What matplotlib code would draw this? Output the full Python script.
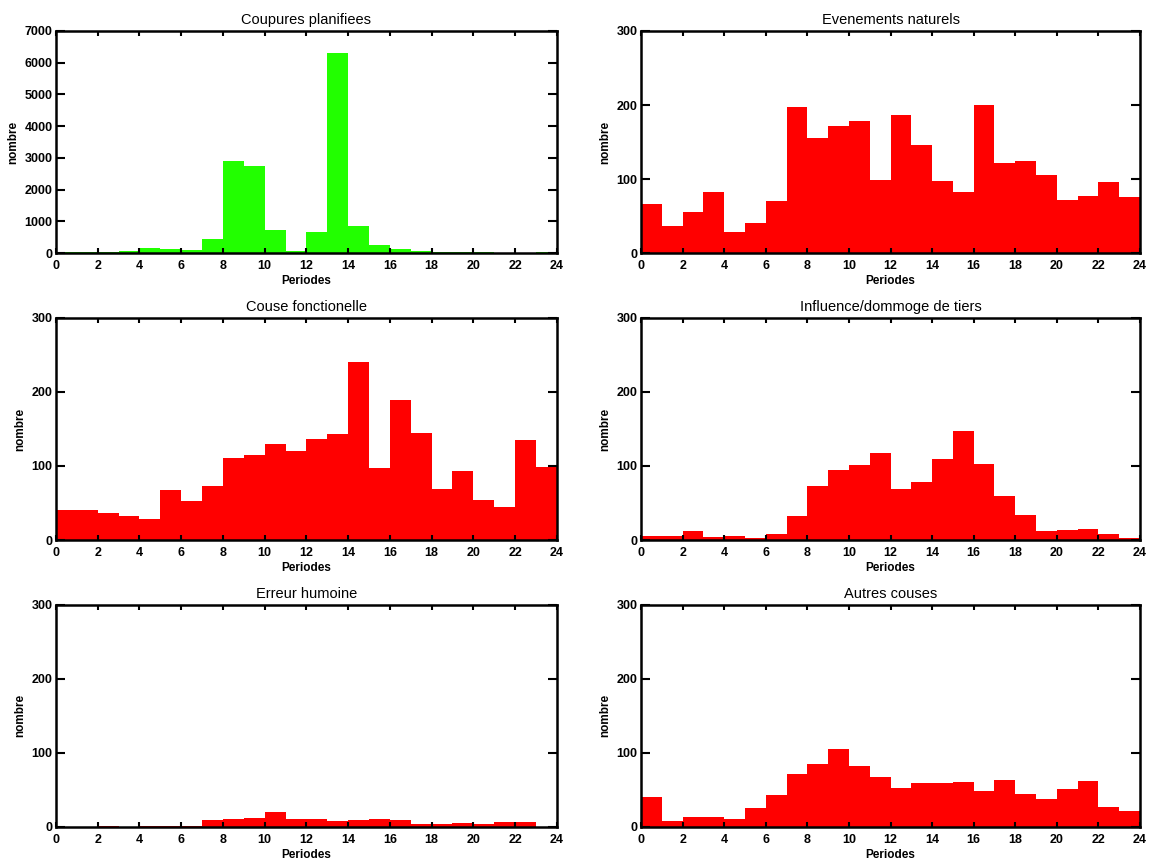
import numpy as np
import matplotlib
matplotlib.use("Agg")
import matplotlib.pyplot as plt

# heures 0..23 (chaque barre couvre une heure)
heures = np.arange(24)

titres = ["Coupures planifiees", "Evenements naturels",
          "Couse fonctionelle", "Influence/dommoge de tiers",
          "Erreur humoine", "Autres couses"]

coupures = [50, 20, 40, 80, 150, 135, 110, 450, 2900, 2740, 715, 70,
            680, 6320, 850, 250, 135, 80, 30, 30, 25, 10, 10, 50]
naturels = [66, 36, 56, 83, 29, 41, 71, 198, 156, 172, 179, 99,
            187, 146, 98, 83, 200, 122, 125, 106, 72, 77, 96, 76]
fonctionelle = [40, 41, 37, 32, 29, 67, 53, 73, 111, 115, 129, 120,
                136, 143, 241, 97, 189, 144, 69, 93, 54, 45, 135, 99]
tiers = [5, 6, 12, 4, 5, 3, 8, 32, 73, 95, 101, 118,
         69, 78, 110, 147, 103, 60, 34, 12, 14, 15, 8, 3]
humaine = [0.5, 0, 1, 0, 1, 1, 2, 9, 10.5, 11.5, 20, 11,
           11, 8.5, 10, 11, 10, 3.5, 3.5, 5, 3.5, 6.5, 6.5, 0.5]
autres = [41, 7.5, 13.5, 13.5, 10.5, 26, 43.5, 71, 85.5, 105, 83, 67,
          52, 59, 60, 61, 48, 63, 44.5, 38, 51, 62, 27.5, 22]

series = [coupures, naturels, fonctionelle, tiers, humaine, autres]
couleurs = ["#22ff00", "red", "red", "red", "red", "red"]
ymax = [7000, 300, 300, 300, 300, 300]
ypas = [1000, 100, 100, 100, 100, 100]

fig = plt.figure(figsize=(11.54, 8.61), dpi=100)

lefts = [0.0485, 0.5555]
bottoms = [0.706, 0.3728, 0.0395]
w = [0.434, 0.4324]
h = 0.258

for i in range(6):
    ligne, col = divmod(i, 2)
    ax = fig.add_axes([lefts[col], bottoms[ligne], w[col], h])
    ax.bar(heures, series[i], width=1, align='edge', color=couleurs[i], linewidth=0)
    ax.set_xlim(0, 24)
    ax.set_ylim(0, ymax[i])
    ax.set_xticks(range(0, 25, 2))
    ax.set_yticks(range(0, ymax[i] + 1, ypas[i]))
    # ticks style IDL : courts en x, longs en y
    ax.tick_params(axis='x', direction='in', top=True, length=3.5, width=1.5,
                   labelsize=9, pad=5)
    ax.tick_params(axis='y', direction='in', right=True, length=6.5, width=1.5,
                   labelsize=9, pad=2.5)
    for lab in ax.get_xticklabels() + ax.get_yticklabels():
        lab.set_fontweight('bold')
        lab.set_family('Liberation Sans')
    for s in ax.spines.values():
        s.set_linewidth(1.8)
    ax.set_title(titres[i], fontsize=10.5, family='Liberation Sans', pad=5)
    ax.set_xlabel("Periodes", fontsize=8.5, fontweight='bold',
                  family='Liberation Sans', labelpad=2)
    ax.set_ylabel("nombre", fontsize=8.5, fontweight='bold',
                  family='Liberation Sans', labelpad=4)

fig.savefig("out.png", dpi=100)
